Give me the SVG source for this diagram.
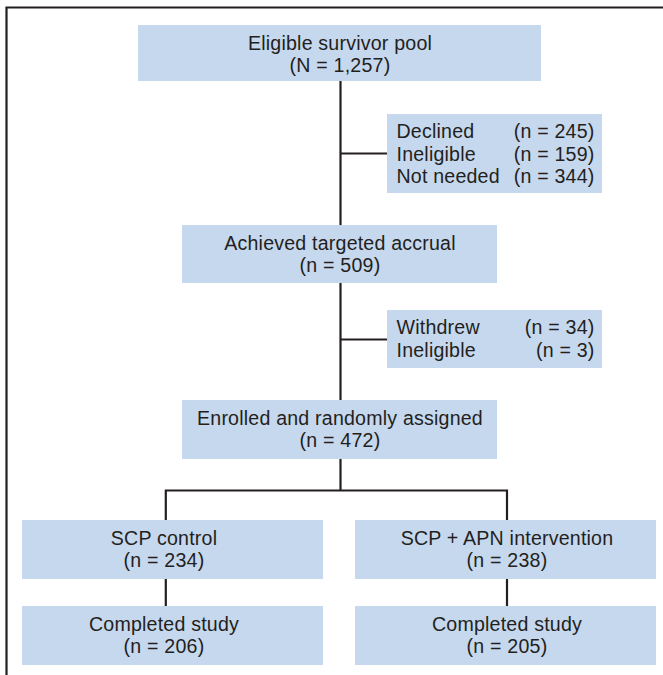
<svg xmlns="http://www.w3.org/2000/svg" width="663" height="675" viewBox="0 0 663 675">
<style>
.box{fill:#c6d8ee;}
.t{font-family:"Liberation Sans",Arial,sans-serif;font-size:19.6px;letter-spacing:0.2px;fill:#231f20;}
.c{text-anchor:middle;}
.r{text-anchor:end;}
.ln{stroke:#231f20;stroke-width:2.2;fill:none;}
</style>
<rect width="663" height="675" fill="#ffffff"/>
<g id="frame"><path class="ln" d="M6.5,675 V7.5 H663"/></g>
<g id="connectors">
<path class="ln" d="M340.5,81 V225"/>
<path class="ln" d="M340.5,153.5 H387"/>
<path class="ln" d="M340.5,283 V400"/>
<path class="ln" d="M340.5,339.5 H387"/>
<path class="ln" d="M340.5,459 V490.5"/>
<path class="ln" d="M165.8,520 V490.5 H507 V520"/>
<path class="ln" d="M165.8,579 V606"/>
<path class="ln" d="M507,579 V606"/>
</g>
<g id="pool">
<rect class="box" x="138" y="25" width="403" height="56"/>
<text class="t c" x="340" y="49.5">Eligible survivor pool</text>
<text class="t c" x="340" y="72">(N = 1,257)</text>
</g>
<g id="excluded1">
<rect class="box" x="387" y="114" width="215" height="79"/>
<text class="t" x="396.5" y="138.3">Declined</text>
<text class="t r" x="594.5" y="138.3">(n = 245)</text>
<text class="t" x="396.5" y="160.8">Ineligible</text>
<text class="t r" x="594.5" y="160.8">(n = 159)</text>
<text class="t" x="396.5" y="183.3">Not needed</text>
<text class="t r" x="594.5" y="183.3">(n = 344)</text>
</g>
<g id="accrual">
<rect class="box" x="182" y="225" width="315" height="58"/>
<text class="t c" x="340" y="249.5">Achieved targeted accrual</text>
<text class="t c" x="340" y="272">(n = 509)</text>
</g>
<g id="excluded2">
<rect class="box" x="387" y="310" width="215" height="58"/>
<text class="t" x="396.5" y="334">Withdrew</text>
<text class="t r" x="594.5" y="334">(n = 34)</text>
<text class="t" x="396.5" y="356.5">Ineligible</text>
<text class="t r" x="594.5" y="356.5">(n = 3)</text>
</g>
<g id="enrolled">
<rect class="box" x="182" y="400" width="315" height="59"/>
<text class="t c" x="340" y="424.5">Enrolled and randomly assigned</text>
<text class="t c" x="340" y="447">(n = 472)</text>
</g>
<g id="control">
<rect class="box" x="22" y="520" width="301" height="59"/>
<text class="t c" x="164" y="544.5">SCP control</text>
<text class="t c" x="164" y="566.5">(n = 234)</text>
</g>
<g id="intervention">
<rect class="box" x="355" y="520" width="301" height="59"/>
<text class="t c" x="507" y="544.5">SCP + APN intervention</text>
<text class="t c" x="507" y="566.5">(n = 238)</text>
</g>
<g id="completed1">
<rect class="box" x="22" y="606" width="301" height="59"/>
<text class="t c" x="164" y="630.5">Completed study</text>
<text class="t c" x="164" y="652.5">(n = 206)</text>
</g>
<g id="completed2">
<rect class="box" x="355" y="606" width="301" height="59"/>
<text class="t c" x="507" y="630.5">Completed study</text>
<text class="t c" x="507" y="652.5">(n = 205)</text>
</g>
</svg>
